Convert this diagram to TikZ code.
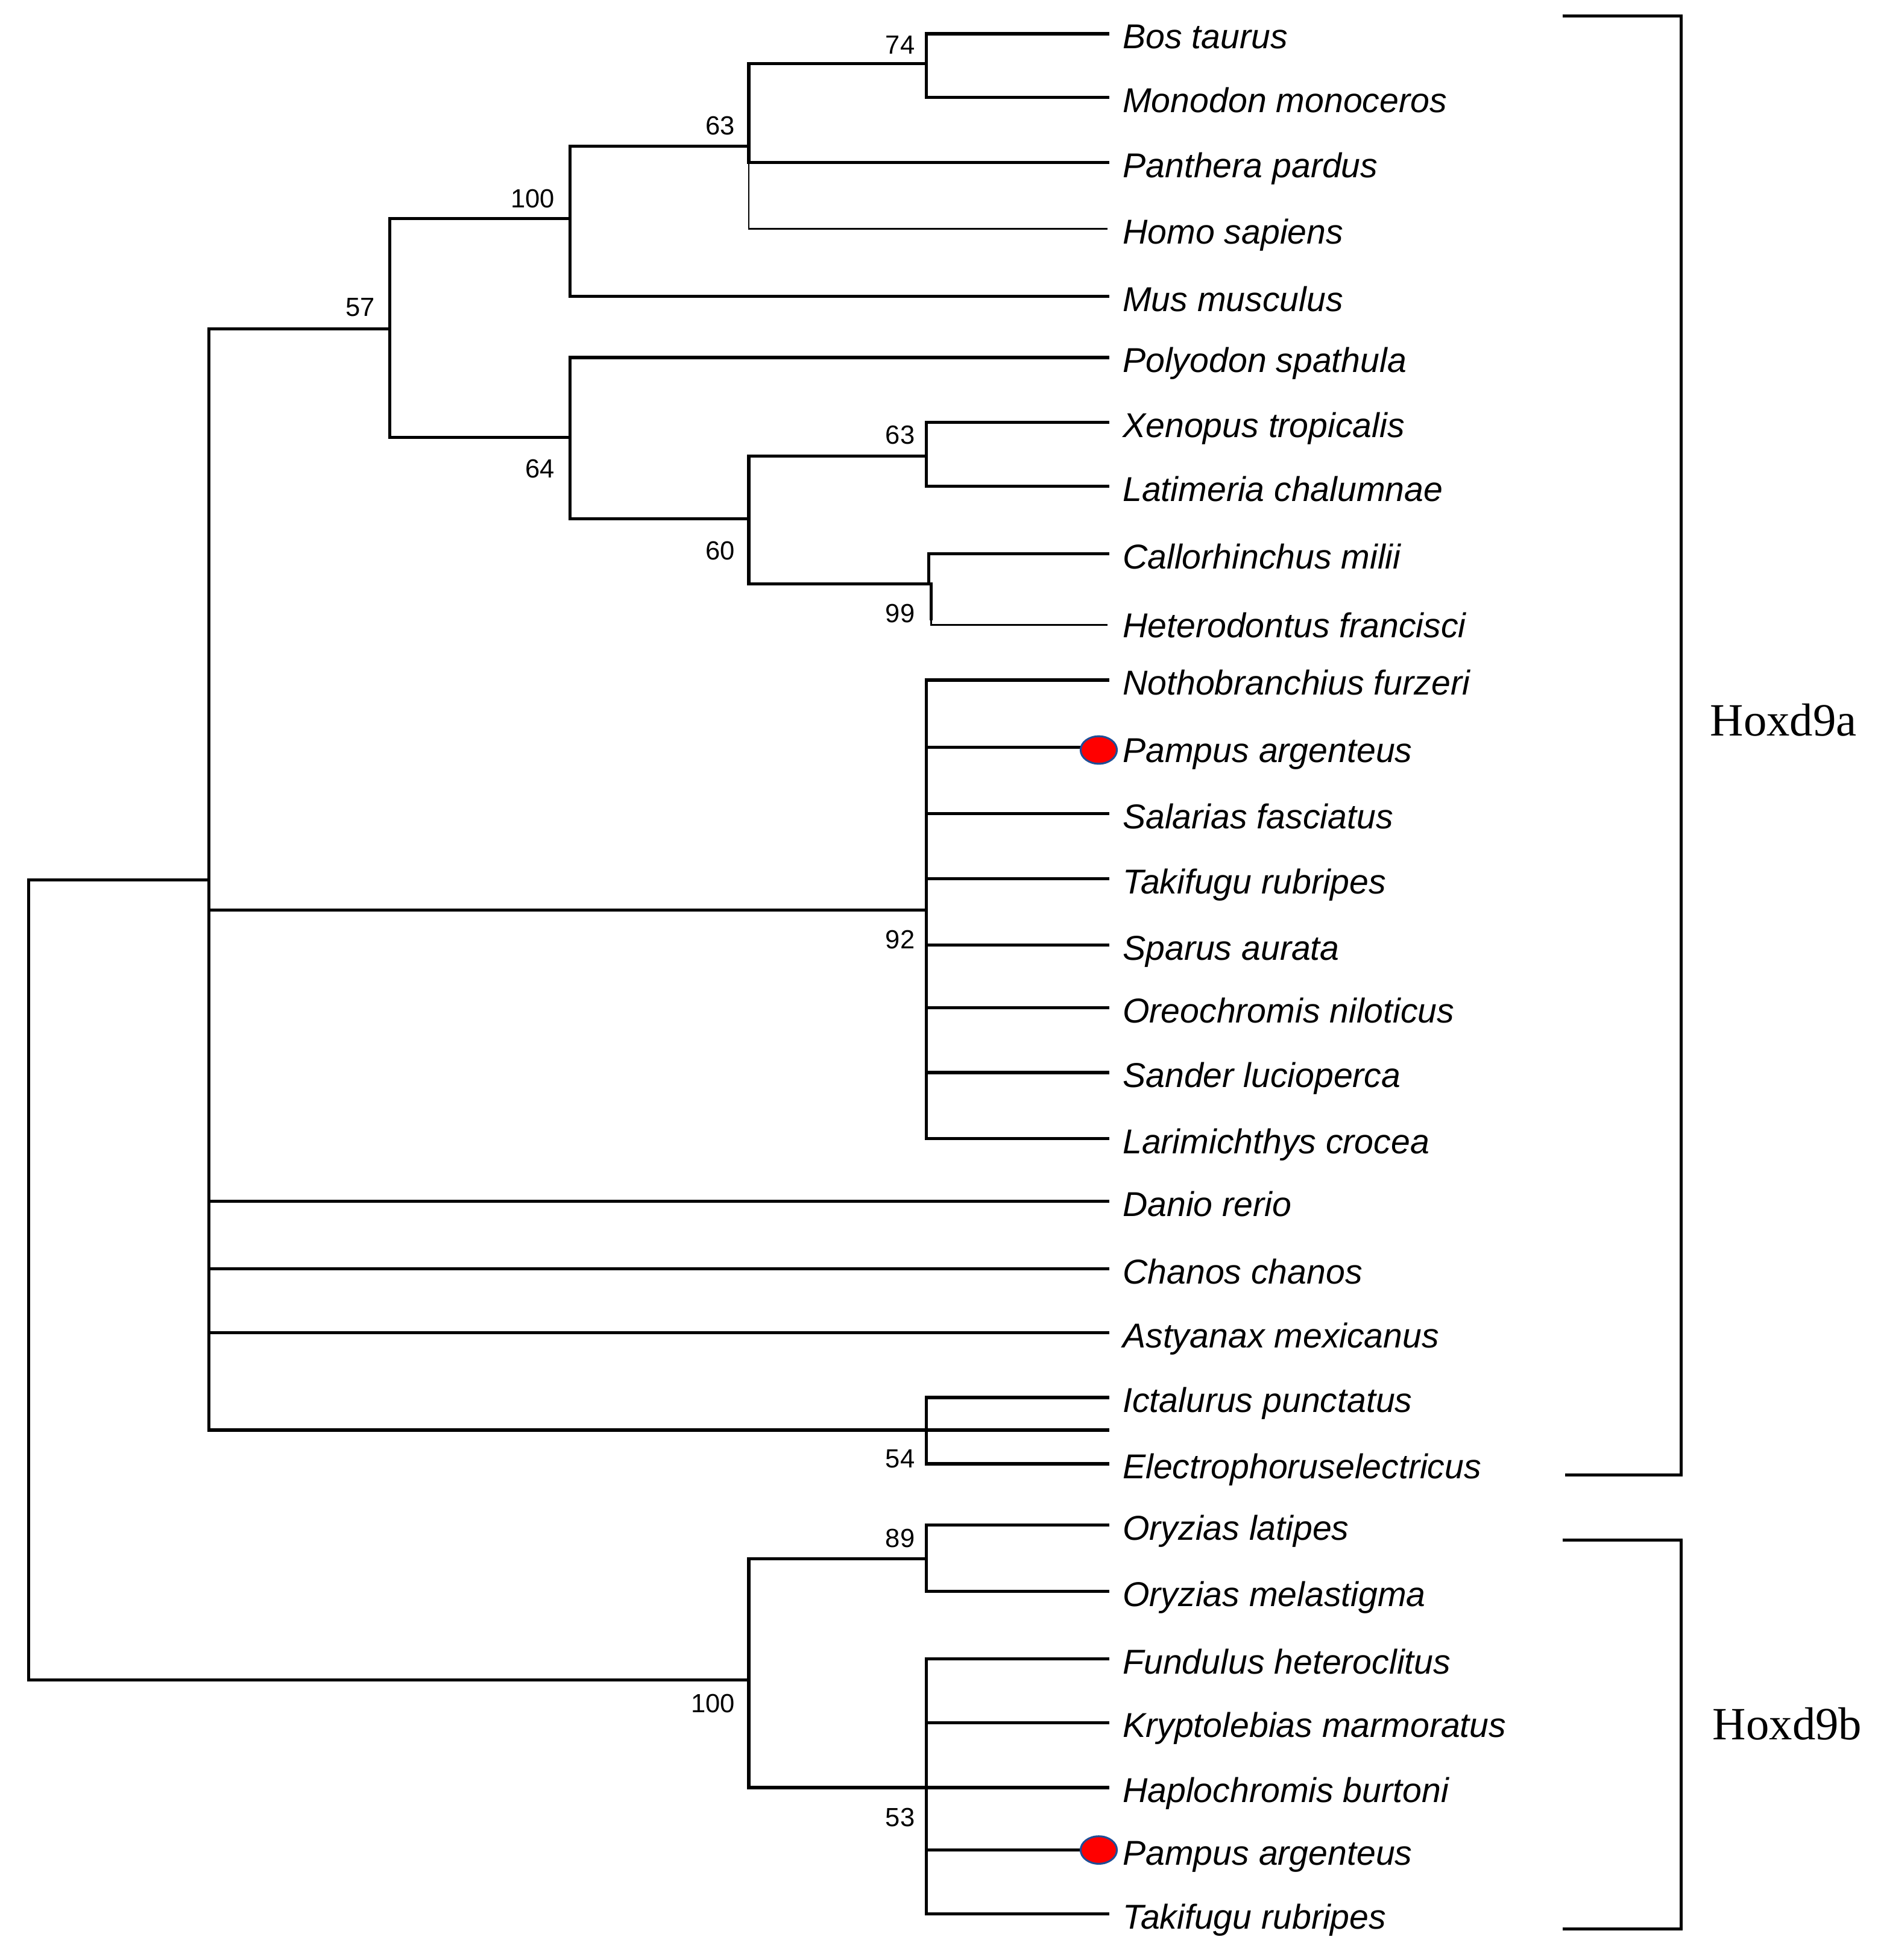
\documentclass[tikz,border=0pt]{standalone}
\usepackage{fontspec}
\usetikzlibrary{shapes.geometric}
\newfontfamily\labfont{Liberation Sans}
\newfontfamily\hoxfont{Liberation Serif}
\definecolor{ringblue}{RGB}{31,78,150}
\begin{document}
\begin{tikzpicture}[x=1pt,y=-1pt,
  br/.style={line width=2.5pt,line cap=rect},
  thinbr/.style={line width=1.3pt},
  bracket/.style={line width=2.4pt,line join=miter},
  lab/.style={anchor=base west,inner sep=0pt,font=\labfont\itshape\fontsize{27.6}{32}\selectfont},
  boot/.style={anchor=base east,inner sep=0pt,font=\labfont\fontsize{21}{24}\selectfont},
  clade/.style={anchor=west,inner sep=0pt,font=\hoxfont\fontsize{37}{42}\selectfont},
  dot/.style={ellipse,draw=ringblue,line width=1.5pt,fill=red,minimum width=29pt,minimum height=22pt,inner sep=0pt}]
\useasboundingbox (0,0) rectangle (1502,1568);
% internal nodes
\coordinate (R) at (23,1024);
\coordinate (A) at (167,704);
\coordinate (n57) at (312,263);
\coordinate (n100) at (456,175);
\coordinate (n63) at (599,117);
\coordinate (n74) at (741,51);
\coordinate (n64) at (456,350);
\coordinate (n60) at (599,415);
\coordinate (n63b) at (741,365);
\coordinate (n99) at (743,467);
\coordinate (n99b) at (745,495);
\coordinate (n92) at (741,728);
\coordinate (n54) at (741,1144);
\coordinate (B) at (599,1344);
\coordinate (n89) at (741,1247);
\coordinate (n53) at (741,1430);
% tip ends
\foreach \i/\y in {1/27,2/78,3/130,4/183,5/237,6/286,7/338,8/389,9/443,10/500,
  11/544,12/598,13/651,14/703,15/756,16/806,17/858,18/911,19/961,20/1015,21/1066,
  22/1118,23/1171,24/1220,25/1273,26/1327,27/1378,28/1430,29/1480,30/1531}
  {\coordinate (e\i) at (886,\y);}
\coordinate (e54) at (886,1144);
% branches
\draw[br] (R) |- (A);
\draw[br] (R) |- (B);
\draw[br] (A) |- (n57);
\draw[br] (A) |- (n92);
\draw[br] (A) |- (e19);
\draw[br] (A) |- (e20);
\draw[br] (A) |- (e21);
\draw[br] (A) |- (n54);
\draw[br] (n54) -- (e54);
\draw[br] (n57) |- (n100);
\draw[br] (n57) |- (n64);
\draw[br] (n100) |- (n63);
\draw[br] (n100) |- (e5);
\draw[thinbr] (n63) |- (e4);
\draw[br] (n63) |- (n74);
\draw[br] (n63) |- (e3);
\draw[br] (n74) |- (e1);
\draw[br] (n74) |- (e2);
\draw[br] (n64) |- (e6);
\draw[br] (n64) |- (n60);
\draw[br] (n60) |- (n63b);
\draw[br] (n60) |- (n99);
\draw[br] (n63b) |- (e7);
\draw[br] (n63b) |- (e8);
\draw[br] (n99) |- (e9);
\draw[br] (n99) -| (n99b);
\draw[thinbr] (n99b) |- (e10);
\foreach \i in {11,...,18} {\draw[br] (n92) |- (e\i);}
\draw[br] (n54) |- (e22);
\draw[br] (n54) |- (e23);
\draw[br] (B) |- (n89);
\draw[br] (B) |- (n53);
\draw[br] (n89) |- (e24);
\draw[br] (n89) |- (e25);
\foreach \i in {26,...,30} {\draw[br] (n53) |- (e\i);}
% markers
\node[dot] (d1) at (879,600) {};
\node[dot] (d2) at (879,1480) {};
% labels
\foreach \i/\y/\t in {1/27/Bos taurus,2/78/Monodon monoceros,3/130/Panthera pardus,
  4/183/Homo sapiens,5/237/Mus musculus,6/286/Polyodon spathula,7/338/Xenopus tropicalis,
  8/389/Latimeria chalumnae,9/443/Callorhinchus milii,10/498/Heterodontus francisci,
  11/544/Nothobranchius furzeri,12/598/Pampus argenteus,13/651/Salarias fasciatus,
  14/703/Takifugu rubripes,15/756/Sparus aurata,16/806/Oreochromis niloticus,
  17/858/Sander lucioperca,18/911/Larimichthys crocea,19/961/Danio rerio,
  20/1015/Chanos chanos,21/1066/Astyanax mexicanus,22/1118/Ictalurus punctatus,
  23/1171/Electrophoruselectricus,24/1220/Oryzias latipes,25/1273/Oryzias melastigma,
  26/1327/Fundulus heteroclitus,27/1378/Kryptolebias marmoratus,28/1430/Haplochromis burtoni,
  29/1480/Pampus argenteus,30/1531/Takifugu rubripes}
  {\node[lab] (L\i) at (898,\y+12) {\t};}
% bootstrap values
\node[boot] (b74) at (732,43) {74};
\node[boot] (b63) at (588,108) {63};
\node[boot] (b100) at (444,166) {100};
\node[boot] (b57) at (300,253) {57};
\node[boot] (b64) at (444,382) {64};
\node[boot] (b63b) at (732,355) {63};
\node[boot] (b60) at (588,448) {60};
\node[boot] (b99) at (732,498) {99};
\node[boot] (b92) at (732,759) {92};
\node[boot] (b54) at (732,1174) {54};
\node[boot] (b89) at (732,1238) {89};
\node[boot] (b100b) at (588,1370) {100};
\node[boot] (b53) at (732,1461) {53};
% clade brackets
\draw[bracket] (1250,13) -- (1345,13) -- (1345,1180) -- (1252,1180);
\draw[bracket] (1250,1232) -- (1345,1232) -- (1345,1543) -- (1250,1543);
\node[clade] (H9a) at (1368,576) {Hoxd9a};
\node[clade] (H9b) at (1370,1379) {Hoxd9b};
\end{tikzpicture}
\end{document}
